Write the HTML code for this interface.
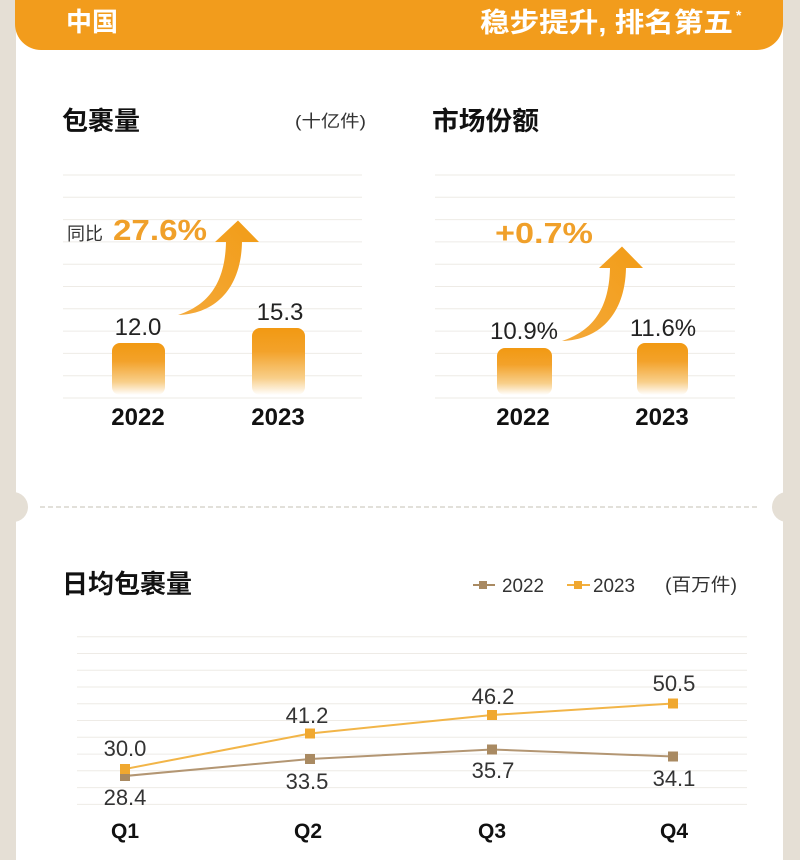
<!DOCTYPE html>
<html>
<head>
<meta charset="utf-8">
<style>
  html,body{margin:0;padding:0;background:#e5dfd5;}
  body{width:800px;height:860px;overflow:hidden;}
  svg{display:block;}
  .cjk{font-family:"Liberation Sans","Noto Sans CJK SC",sans-serif;}
  .lat{font-family:"Liberation Sans","Noto Sans CJK SC",sans-serif;}
</style>
</head>
<body>
<svg width="800" height="860" viewBox="0 0 800 860" xmlns="http://www.w3.org/2000/svg">
  <defs>
    <linearGradient id="bar" x1="0" y1="0" x2="0" y2="1">
      <stop offset="0" stop-color="#f29912"/>
      <stop offset="0.35" stop-color="#f3a22a"/>
      <stop offset="0.75" stop-color="#f8cf8a"/>
      <stop offset="1" stop-color="#ffffff"/>
    </linearGradient>
    <linearGradient id="arr" x1="0" y1="1" x2="1" y2="0">
      <stop offset="0" stop-color="#f4a93a"/>
      <stop offset="1" stop-color="#f29c16"/>
    </linearGradient>
  </defs>

  <!-- background -->
  <rect x="0" y="0" width="800" height="860" fill="#e5dfd5"/>
  <rect x="16" y="0" width="767" height="860" fill="#ffffff"/>

  <!-- header bar -->
  <rect x="15" y="-40" width="768" height="90" rx="26" ry="26" fill="#f29c1c"/>
  <text x="66" y="31" class="cjk" font-size="26" font-weight="bold" fill="#ffffff" textLength="52" lengthAdjust="spacingAndGlyphs">中国</text>
  <text x="480" y="32" class="cjk" font-size="27" font-weight="bold" fill="#ffffff" textLength="253" lengthAdjust="spacingAndGlyphs">稳步提升, 排名第五</text>
  <text x="736" y="20" class="lat" font-size="14" font-weight="bold" fill="#ffffff">*</text>

  <!-- section titles -->
  <text x="62" y="130" class="cjk" font-size="26" font-weight="bold" fill="#111111" textLength="78" lengthAdjust="spacingAndGlyphs">包裹量</text>
  <text x="295" y="127" class="cjk" font-size="17" fill="#333333" textLength="71" lengthAdjust="spacingAndGlyphs">(十亿件)</text>
  <text x="432" y="130" class="cjk" font-size="26" font-weight="bold" fill="#111111" textLength="107" lengthAdjust="spacingAndGlyphs">市场份额</text>

  <!-- grid lines top-left -->
  <g stroke="#eeebe6" stroke-width="1">
    <line x1="63" y1="175" x2="362" y2="175"/>
    <line x1="63" y1="197.3" x2="362" y2="197.3"/>
    <line x1="63" y1="219.6" x2="362" y2="219.6"/>
    <line x1="63" y1="241.9" x2="362" y2="241.9"/>
    <line x1="63" y1="264.2" x2="362" y2="264.2"/>
    <line x1="63" y1="286.5" x2="362" y2="286.5"/>
    <line x1="63" y1="308.8" x2="362" y2="308.8"/>
    <line x1="63" y1="331.1" x2="362" y2="331.1"/>
    <line x1="63" y1="353.4" x2="362" y2="353.4"/>
    <line x1="63" y1="375.7" x2="362" y2="375.7"/>
    <line x1="63" y1="398" x2="362" y2="398"/>
  </g>
  <!-- grid lines top-right -->
  <g stroke="#eeebe6" stroke-width="1">
    <line x1="435" y1="175" x2="735" y2="175"/>
    <line x1="435" y1="197.3" x2="735" y2="197.3"/>
    <line x1="435" y1="219.6" x2="735" y2="219.6"/>
    <line x1="435" y1="241.9" x2="735" y2="241.9"/>
    <line x1="435" y1="264.2" x2="735" y2="264.2"/>
    <line x1="435" y1="286.5" x2="735" y2="286.5"/>
    <line x1="435" y1="308.8" x2="735" y2="308.8"/>
    <line x1="435" y1="331.1" x2="735" y2="331.1"/>
    <line x1="435" y1="353.4" x2="735" y2="353.4"/>
    <line x1="435" y1="375.7" x2="735" y2="375.7"/>
    <line x1="435" y1="398" x2="735" y2="398"/>
  </g>

  <!-- bars left -->
  <rect x="112" y="343" width="53" height="52" rx="8" fill="url(#bar)"/>
  <rect x="252" y="328" width="53" height="67" rx="8" fill="url(#bar)"/>
  <!-- bars right -->
  <rect x="497" y="348" width="55" height="47" rx="8" fill="url(#bar)"/>
  <rect x="637" y="343" width="51" height="52" rx="8" fill="url(#bar)"/>

  <!-- arrows -->
  <path d="M178 315 C205 306, 225 287, 226 242 L215 242 L238 220.5 L259 242 L242 242 C241 290, 214 314, 178 315 Z" fill="url(#arr)"/>
  <g transform="translate(384,26)">
    <path d="M178 315 C205 306, 225 287, 226 242 L215 242 L238 220.5 L259 242 L242 242 C241 290, 214 314, 178 315 Z" fill="url(#arr)"/>
  </g>

  <!-- top-left labels -->
  <text x="67" y="240" class="cjk" font-size="18" fill="#333333" textLength="36" lengthAdjust="spacingAndGlyphs">同比</text>
  <text x="113" y="240" class="lat" font-size="29" font-weight="bold" fill="#f0a02a" textLength="94" lengthAdjust="spacingAndGlyphs">27.6%</text>
  <text x="138" y="335" class="lat" font-size="24" fill="#222222" text-anchor="middle">12.0</text>
  <text x="280" y="320" class="lat" font-size="24" fill="#222222" text-anchor="middle">15.3</text>
  <text x="138" y="425" class="lat" font-size="24" font-weight="bold" fill="#111111" text-anchor="middle">2022</text>
  <text x="278" y="425" class="lat" font-size="24" font-weight="bold" fill="#111111" text-anchor="middle">2023</text>

  <!-- top-right labels -->
  <text x="495" y="243" class="lat" font-size="29" font-weight="bold" fill="#f0a02a" textLength="98" lengthAdjust="spacingAndGlyphs">+0.7%</text>
  <text x="524" y="339" class="lat" font-size="24" fill="#222222" text-anchor="middle">10.9%</text>
  <text x="663" y="336" class="lat" font-size="24" fill="#222222" text-anchor="middle">11.6%</text>
  <text x="523" y="425" class="lat" font-size="24" font-weight="bold" fill="#111111" text-anchor="middle">2022</text>
  <text x="662" y="425" class="lat" font-size="24" font-weight="bold" fill="#111111" text-anchor="middle">2023</text>

  <!-- separator -->
  <line x1="40" y1="507" x2="760" y2="507" stroke="#d9d5ce" stroke-width="1.5" stroke-dasharray="5 3"/>
  <circle cx="13" cy="507" r="15" fill="#e5dfd5"/>
  <circle cx="787" cy="507" r="15" fill="#e5dfd5"/>

  <!-- bottom title & legend -->
  <text x="62" y="593" class="cjk" font-size="26" font-weight="bold" fill="#111111" textLength="130" lengthAdjust="spacingAndGlyphs">日均包裹量</text>
  <line x1="473" y1="585" x2="495" y2="585" stroke="#a98a62" stroke-width="2"/>
  <rect x="479" y="581" width="8" height="8" fill="#a98a62"/>
  <text x="502" y="592" class="lat" font-size="19" fill="#333333" textLength="42" lengthAdjust="spacingAndGlyphs">2022</text>
  <line x1="567" y1="585" x2="590" y2="585" stroke="#f2b040" stroke-width="2"/>
  <rect x="574" y="581" width="8" height="8" fill="#f0a830"/>
  <text x="593" y="592" class="lat" font-size="19" fill="#333333" textLength="42" lengthAdjust="spacingAndGlyphs">2023</text>
  <text x="665" y="591" class="cjk" font-size="18" fill="#333333" textLength="72" lengthAdjust="spacingAndGlyphs">(百万件)</text>

  <!-- line chart grid -->
  <g stroke="#eeebe6" stroke-width="1">
    <line x1="77" y1="636.7" x2="747" y2="636.7"/>
    <line x1="77" y1="653.5" x2="747" y2="653.5"/>
    <line x1="77" y1="670.2" x2="747" y2="670.2"/>
    <line x1="77" y1="687" x2="747" y2="687"/>
    <line x1="77" y1="703.8" x2="747" y2="703.8"/>
    <line x1="77" y1="720.5" x2="747" y2="720.5"/>
    <line x1="77" y1="737.3" x2="747" y2="737.3"/>
    <line x1="77" y1="754.1" x2="747" y2="754.1"/>
    <line x1="77" y1="770.8" x2="747" y2="770.8"/>
    <line x1="77" y1="787.6" x2="747" y2="787.6"/>
    <line x1="77" y1="804.4" x2="747" y2="804.4"/>
  </g>

  <!-- series 2022 -->
  <polyline points="125,776 310,759 492,749.5 673,756.5" fill="none" stroke="#b39673" stroke-width="2"/>
  <g fill="#a98a62">
    <rect x="120" y="771" width="10" height="10"/>
    <rect x="305" y="754" width="10" height="10"/>
    <rect x="487" y="744.5" width="10" height="10"/>
    <rect x="668" y="751.5" width="10" height="10"/>
  </g>
  <!-- series 2023 -->
  <polyline points="125,769 310,733.5 492,715 673,703.5" fill="none" stroke="#f2b548" stroke-width="2"/>
  <g fill="#f0a830">
    <rect x="120" y="764" width="10" height="10"/>
    <rect x="305" y="728.5" width="10" height="10"/>
    <rect x="487" y="710" width="10" height="10"/>
    <rect x="668" y="698.5" width="10" height="10"/>
  </g>

  <!-- data labels -->
  <g class="lat" font-size="22" fill="#333333" text-anchor="middle">
    <text x="125" y="756">30.0</text>
    <text x="125" y="805">28.4</text>
    <text x="307" y="723">41.2</text>
    <text x="307" y="789">33.5</text>
    <text x="493" y="704">46.2</text>
    <text x="493" y="778">35.7</text>
    <text x="674" y="691">50.5</text>
    <text x="674" y="786">34.1</text>
  </g>
  <g class="lat" font-size="21" font-weight="bold" fill="#111111" text-anchor="middle">
    <text x="125" y="838">Q1</text>
    <text x="308" y="838">Q2</text>
    <text x="492" y="838">Q3</text>
    <text x="674" y="838">Q4</text>
  </g>
</svg>
</body>
</html>
